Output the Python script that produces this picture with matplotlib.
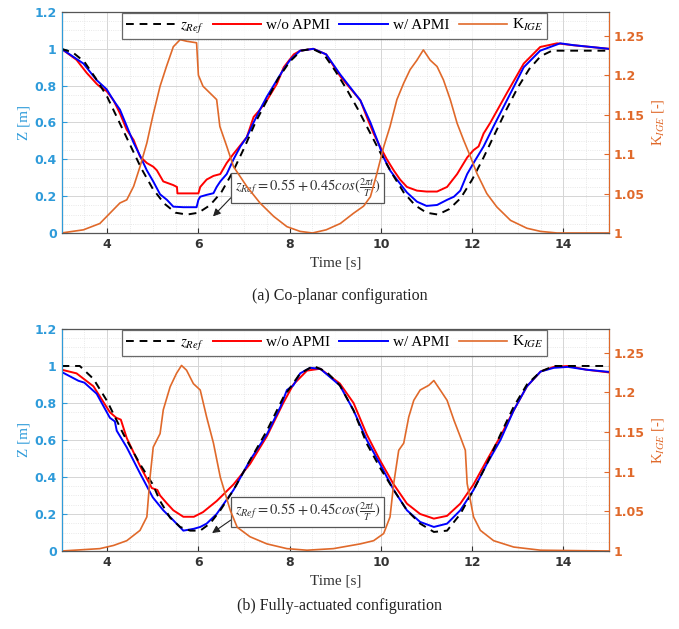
import matplotlib
matplotlib.use('Agg')
import matplotlib.pyplot as plt
from matplotlib.ticker import MultipleLocator
from matplotlib.lines import Line2D

plt.rcParams['font.family'] = ['Liberation Serif', 'DejaVu Serif']
plt.rcParams['mathtext.fontset'] = 'stix'

# ---- (a) co-planar ----
t_ref_a = [3.0, 3.25, 3.5, 3.75, 4.0, 4.25, 4.5, 4.75, 5.0, 5.25, 5.5, 5.75, 6.0, 6.25, 6.5, 6.75,
           7.0, 7.25, 7.5, 7.75, 8.0, 8.25, 8.5, 8.75, 9.0, 9.25, 9.5, 9.75, 10.0, 10.25, 10.5, 10.75,
           11.0, 11.25, 11.5, 11.75, 12.0, 12.25, 12.5, 12.75, 13.0, 13.25, 13.5, 13.75, 14.0, 14.5, 15.0]
z_ref_a = [1.0, 0.98, 0.93, 0.84, 0.74, 0.61, 0.48, 0.35, 0.24, 0.16, 0.11, 0.10, 0.11, 0.15, 0.22, 0.33,
           0.46, 0.60, 0.72, 0.84, 0.93, 0.99, 1.0, 0.97, 0.88, 0.78, 0.67, 0.55, 0.43, 0.32, 0.22, 0.15,
           0.11, 0.10, 0.13, 0.19, 0.29, 0.41, 0.54, 0.67, 0.79, 0.89, 0.96, 0.99, 0.99, 0.99, 0.99]

t_red_a = [3.0, 3.33, 3.55, 3.77, 3.84, 3.99, 4.14, 4.28, 4.43, 4.58, 4.72, 4.87, 5.01, 5.09, 5.23, 5.45,
           5.53, 5.54, 6.0, 6.04, 6.18, 6.33, 6.48, 6.62, 6.77, 7.06, 7.21, 7.35, 7.5, 7.72, 7.87, 8.09,
           8.23, 8.52, 8.8, 9.11, 9.55, 9.69, 9.84, 9.98, 10.13, 10.28, 10.42, 10.57, 10.79, 11.0, 11.23,
           11.45, 11.67, 11.89, 12.03, 12.14, 12.25, 12.4, 12.76, 13.13, 13.49, 13.86, 14.2, 14.6, 15.0]
z_red_a = [1.0, 0.94, 0.87, 0.81, 0.795, 0.77, 0.72, 0.65, 0.56, 0.505, 0.415, 0.38, 0.36, 0.34, 0.28, 0.26,
           0.25, 0.215, 0.215, 0.25, 0.29, 0.31, 0.32, 0.38, 0.43, 0.52, 0.63, 0.67, 0.72, 0.81, 0.90, 0.97,
           0.99, 1.0, 0.97, 0.85, 0.72, 0.63, 0.54, 0.47, 0.40, 0.34, 0.29, 0.25, 0.23, 0.225, 0.225,
           0.25, 0.32, 0.41, 0.45, 0.47, 0.54, 0.60, 0.76, 0.92, 1.01, 1.03, 1.02, 1.01, 1.0]

t_blue_a = [3.0, 3.48, 3.77, 3.99, 4.14, 4.28, 4.43, 4.58, 4.72, 4.87, 5.01, 5.16, 5.31, 5.45, 5.67, 5.96,
            6.0, 6.04, 6.18, 6.33, 6.4, 6.48, 6.62, 6.77, 6.92, 7.06, 7.21, 7.35, 7.5, 7.72, 7.87, 8.01,
            8.23, 8.52, 8.8, 9.11, 9.55, 9.77, 9.91, 10.06, 10.2, 10.35, 10.57, 10.79, 11.0, 11.23, 11.45,
            11.6, 11.74, 11.89, 12.03, 12.25, 12.47, 12.76, 13.13, 13.49, 13.93, 14.22, 15.0]
z_blue_a = [1.0, 0.92, 0.83, 0.78, 0.72, 0.67, 0.58, 0.49, 0.42, 0.34, 0.28, 0.21, 0.18, 0.143, 0.14, 0.14,
            0.18, 0.197, 0.207, 0.216, 0.25, 0.28, 0.32, 0.40, 0.47, 0.52, 0.60, 0.67, 0.74, 0.83, 0.89, 0.94,
            0.99, 1.0, 0.97, 0.86, 0.72, 0.60, 0.51, 0.41, 0.34, 0.29, 0.22, 0.17, 0.147, 0.152, 0.18,
            0.197, 0.23, 0.32, 0.38, 0.47, 0.58, 0.72, 0.90, 0.99, 1.03, 1.02, 1.0]

t_k_a = [3.0, 3.48, 3.84, 4.06, 4.28, 4.43, 4.58, 4.72, 4.87, 5.0, 5.16, 5.3, 5.45, 5.6, 5.74, 5.96,
         6.0, 6.1, 6.33, 6.4, 6.47, 6.62, 6.77, 7.06, 7.35, 7.65, 7.94, 8.23, 8.5, 8.8, 9.11, 9.4, 9.62,
         9.77, 9.91, 10.06, 10.2, 10.35, 10.5, 10.64, 10.79, 10.93, 11.08, 11.23, 11.37, 11.52, 11.67,
         11.81, 11.96, 12.1, 12.32, 12.54, 12.84, 13.2, 13.5, 13.86, 15.0]
k_a = [1.0, 1.004, 1.012, 1.025, 1.038, 1.042, 1.059, 1.084, 1.114, 1.148, 1.186, 1.211, 1.236, 1.245,
       1.243, 1.241, 1.20, 1.186, 1.173, 1.169, 1.135, 1.11, 1.084, 1.059, 1.038, 1.021, 1.008, 1.002,
       1.0, 1.004, 1.012, 1.025, 1.034, 1.046, 1.075, 1.109, 1.135, 1.169, 1.190, 1.207, 1.219, 1.232,
       1.219, 1.211, 1.194, 1.169, 1.139, 1.118, 1.097, 1.076, 1.050, 1.033, 1.016, 1.006, 1.002, 1.0, 1.0]

# ---- (b) fully-actuated ----
t_ref_b = [3.0, 3.4, 3.7, 4.0, 4.36, 4.72, 5.0, 5.16, 5.38, 5.6, 5.82, 6.04, 6.26, 6.48, 6.77, 7.13,
           7.5, 7.86, 8.23, 8.52, 8.8, 9.1, 9.4, 9.69, 9.98, 10.28, 10.57, 10.86, 11.16, 11.45, 11.74,
           12.03, 12.32, 12.62, 12.91, 13.2, 13.5, 13.79, 14.0, 15.0]
z_ref_b = [1.0, 1.0, 0.93, 0.81, 0.63, 0.47, 0.36, 0.27, 0.18, 0.13, 0.11, 0.11, 0.15, 0.22, 0.33, 0.49,
           0.65, 0.83, 0.96, 1.0, 0.97, 0.895, 0.76, 0.58, 0.45, 0.33, 0.22, 0.148, 0.103, 0.11, 0.20,
           0.33, 0.47, 0.63, 0.78, 0.90, 0.97, 1.0, 1.0, 1.0]

t_red_b = [3.0, 3.33, 3.7, 4.06, 4.2, 4.3, 4.43, 4.72, 4.98, 5.1, 5.16, 5.3, 5.45, 5.67, 5.9, 6.1, 6.4,
           6.77, 7.13, 7.5, 7.86, 8.08, 8.38, 8.67, 9.1, 9.4, 9.69, 9.98, 10.28, 10.57, 10.86, 11.16,
           11.45, 11.74, 12.03, 12.32, 12.62, 12.91, 13.2, 13.5, 13.79, 14.1, 14.5, 15.0]
z_red_b = [0.98, 0.96, 0.89, 0.75, 0.72, 0.71, 0.61, 0.46, 0.34, 0.33, 0.30, 0.26, 0.22, 0.185, 0.185,
           0.21, 0.27, 0.36, 0.47, 0.62, 0.80, 0.90, 0.975, 0.985, 0.905, 0.80, 0.63, 0.49, 0.36, 0.256,
           0.20, 0.175, 0.19, 0.256, 0.36, 0.49, 0.62, 0.76, 0.89, 0.97, 0.995, 1.0, 0.98, 0.965]

t_blue_b = [3.0, 3.37, 3.5, 3.77, 4.06, 4.17, 4.21, 4.43, 4.72, 5.0, 5.23, 5.45, 5.67, 5.9, 6.04, 6.18,
            6.4, 6.77, 7.13, 7.5, 7.8, 7.94, 8.08, 8.23, 8.45, 8.67, 9.1, 9.4, 9.69, 9.98, 10.28, 10.57,
            10.86, 11.16, 11.45, 11.74, 12.03, 12.32, 12.62, 12.91, 13.2, 13.5, 13.79, 14.1, 14.5, 15.0]
z_blue_b = [0.968, 0.92, 0.91, 0.85, 0.72, 0.70, 0.65, 0.56, 0.42, 0.29, 0.22, 0.166, 0.11, 0.12, 0.13,
            0.148, 0.20, 0.33, 0.49, 0.63, 0.78, 0.87, 0.895, 0.96, 0.99, 0.985, 0.895, 0.76, 0.60, 0.47,
            0.33, 0.22, 0.157, 0.13, 0.148, 0.22, 0.33, 0.47, 0.60, 0.76, 0.89, 0.97, 0.99, 0.995, 0.98, 0.968]

t_k_b = [3.0, 3.84, 4.14, 4.43, 4.72, 4.87, 4.94, 5.01, 5.16, 5.23, 5.38, 5.52, 5.63, 5.74, 5.89, 6.04,
         6.18, 6.33, 6.48, 6.7, 6.85, 7.13, 7.5, 7.94, 8.38, 8.96, 9.55, 9.84, 10.06, 10.2, 10.28, 10.39,
         10.5, 10.61, 10.72, 10.86, 11.05, 11.16, 11.3, 11.45, 11.6, 11.74, 11.85, 11.89, 12.03, 12.18,
         12.47, 12.91, 13.5, 15.0]
k_b = [1.0, 1.003, 1.007, 1.013, 1.026, 1.043, 1.093, 1.131, 1.148, 1.178, 1.207, 1.224, 1.234, 1.228,
       1.211, 1.203, 1.169, 1.136, 1.093, 1.051, 1.03, 1.018, 1.009, 1.003, 1.001, 1.003, 1.009, 1.013,
       1.022, 1.043, 1.085, 1.127, 1.136, 1.169, 1.19, 1.203, 1.209, 1.215, 1.203, 1.19, 1.165, 1.144,
       1.127, 1.085, 1.043, 1.026, 1.013, 1.005, 1.001, 1.0]

x_ticks = [4, 6, 8, 10, 12, 14]
z_ticks = [0, 0.2, 0.4, 0.6, 0.8, 1.0, 1.2]
z_ticklabels = ['0', '0.2', '0.4', '0.6', '0.8', '1', '1.2']
k_ticks = [1, 1.05, 1.1, 1.15, 1.2, 1.25]
k_ticklabels = ['1', '1.05', '1.1', '1.15', '1.2', '1.25']

BLUE_AX = '#2E9BDA'
ORANGE = '#E0692A'
TICKFONT = ['DejaVu Sans']
eq_text = r'$z_{Ref} = 0.55 + 0.45cos(\frac{2\pi t}{T})$'


def draw_panel(fig, rect, t_ref, z_ref, t_red, z_red, t_blue, z_blue, t_k, k, box_y, arrow_xy, caption, cap_y):
    ax1 = fig.add_axes(rect)
    ax2 = ax1.twinx()
    ax1.plot(t_red, z_red, color='#FF0000', lw=1.4)
    ax1.plot(t_blue, z_blue, color='#0000FF', lw=1.4)
    ax1.plot(t_ref, z_ref, color='k', lw=1.4, ls=(0, (4, 3)))
    ax2.plot(t_k, k, color=ORANGE, lw=1.2)

    ax1.set_xlim(3, 15)
    ax1.set_ylim(0, 1.2)
    ax2.set_ylim(1, 1.28)
    ax1.set_xticks(x_ticks)
    ax1.set_yticks(z_ticks)
    ax1.set_yticklabels(z_ticklabels)
    ax2.set_yticks(k_ticks)
    ax2.set_yticklabels(k_ticklabels)
    ax1.xaxis.set_minor_locator(MultipleLocator(0.5))
    ax1.yaxis.set_minor_locator(MultipleLocator(0.05))

    ax1.grid(which='major', color='#D5D5D5', lw=0.7)
    ax1.grid(which='minor', color='#E2E2E2', lw=0.6, ls=':')
    ax1.set_axisbelow(True)

    ax1.tick_params(axis='x', which='both', direction='in', colors='#333333', labelsize=9)
    ax1.tick_params(axis='x', which='minor', length=0)
    ax1.tick_params(axis='y', which='both', direction='in', colors=BLUE_AX, labelsize=9)
    ax1.tick_params(axis='y', which='minor', length=0)
    ax2.tick_params(axis='y', direction='in', colors=ORANGE, labelsize=9)
    for lab in ax1.get_xticklabels() + ax1.get_yticklabels() + ax2.get_yticklabels():
        lab.set_family(TICKFONT)
        lab.set_fontweight('bold')

    for sp in ['top', 'bottom']:
        ax2.spines[sp].set_color('#555555')
    ax2.spines['left'].set_color(BLUE_AX)
    ax2.spines['right'].set_color(ORANGE)

    ax1.set_xlabel('Time [s]', fontsize=11, color='#333333', labelpad=4)
    ax1.set_ylabel('Z [m]', fontsize=11, color=BLUE_AX, labelpad=3)
    ax2.set_ylabel(r'K$_{IGE}$ [-]', fontsize=10.5, color=ORANGE, labelpad=4)

    ax1.annotate(eq_text, xy=arrow_xy, xytext=(6.8, box_y), fontsize=10.5, color='#333333',
                 ha='left', va='center',
                 bbox=dict(boxstyle='square,pad=0.25', fc='white', ec='#555555', lw=0.9),
                 arrowprops=dict(arrowstyle='-|>', color='#222222', lw=0.8, relpos=(0, 0.25),
                                 shrinkA=0, shrinkB=0, mutation_scale=11))

    handles = [Line2D([], [], color='k', lw=1.4, ls=(0, (4, 3))),
               Line2D([], [], color='#FF0000', lw=1.4),
               Line2D([], [], color='#0000FF', lw=1.4),
               Line2D([], [], color=ORANGE, lw=1.2)]
    labels = [r'$z_{Ref}$', 'w/o APMI', 'w/ APMI', r'K$_{IGE}$']
    leg = ax2.legend(handles, labels, loc='upper center', bbox_to_anchor=(0.499, 0.995), ncol=4,
                     fontsize=11, frameon=True, fancybox=False, edgecolor='#444444',
                     handlelength=3.2, columnspacing=0.6, handletextpad=0.3, borderpad=0.25,
                     borderaxespad=0)
    leg.get_frame().set_linewidth(0.9)

    fig.text(0.5, cap_y, caption, ha='center', va='center', fontsize=11.5, color='#222222')


fig = plt.figure(figsize=(6.79, 6.29), dpi=100)
fig.patch.set_facecolor('white')

draw_panel(fig, [0.0906, 0.6296, 0.8064, 0.3513], t_ref_a, z_ref_a, t_red_a, z_red_a, t_blue_a, z_blue_a,
           t_k_a, k_a, 0.245, (6.32, 0.09), '(a) Co-planar configuration', 1 - 296 / 629)
draw_panel(fig, [0.0906, 0.124, 0.8064, 0.353], t_ref_b, z_ref_b, t_red_b, z_red_b, t_blue_b, z_blue_b,
           t_k_b, k_b, 0.213, (6.3, 0.097), '(b) Fully-actuated configuration', 1 - 606 / 629)

fig.savefig('out.png', dpi=100)
